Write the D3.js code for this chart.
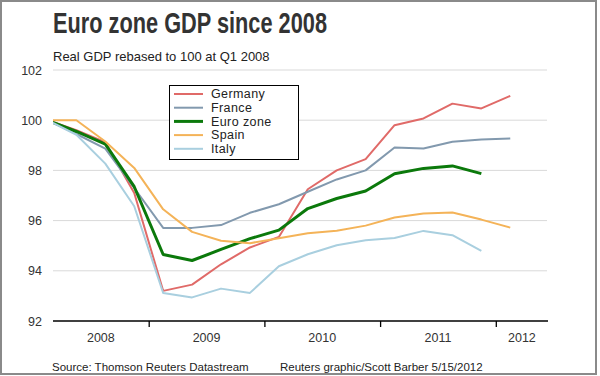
<!DOCTYPE html>
<html>
<head>
<meta charset="utf-8">
<script src="https://cdn.jsdelivr.net/npm/d3@7"></script>
<style>
  html, body { margin: 0; padding: 0; background: #fff; }
  svg { display: block; font-family: "Liberation Sans", Arial, sans-serif; }
</style>
</head>
<body>
<div id="chart"></div>
<script>
// quarters Q1 2008 .. Q1 2012
const quarters = ['2008Q1','2008Q2','2008Q3','2008Q4','2009Q1','2009Q2','2009Q3','2009Q4',
                  '2010Q1','2010Q2','2010Q3','2010Q4','2011Q1','2011Q2','2011Q3','2011Q4','2012Q1'];
const years = [2008, 2009, 2010, 2011, 2012];
const yTicks = [92, 94, 96, 98, 100, 102];

const germany  = [100, 99.6, 99.12, 97.1, 93.2, 93.45, 94.26, 94.93, 95.35, 97.25, 98.0, 98.45, 99.8, 100.07, 100.66, 100.47, 100.97];
const france   = [100, 99.45, 98.87, 97.3, 95.71, 95.71, 95.82, 96.31, 96.65, 97.15, 97.64, 98.0, 98.91, 98.87, 99.14, 99.23, 99.27];
const eurozone = [100, 99.55, 99.05, 97.35, 94.65, 94.41, 94.85, 95.28, 95.62, 96.48, 96.88, 97.18, 97.87, 98.08, 98.18, 97.87];
const spain    = [100, 100.0, 99.15, 98.1, 96.45, 95.55, 95.2, 95.1, 95.3, 95.5, 95.6, 95.8, 96.12, 96.28, 96.32, 96.04, 95.72];
const italy    = [100, 99.42, 98.27, 96.57, 93.12, 92.94, 93.29, 93.12, 94.18, 94.66, 95.02, 95.22, 95.31, 95.59, 95.42, 94.79];

const series = [
    { name: 'Germany',   values: germany,  color: '#e06a68', width: 2 },
    { name: 'France',    values: france,   color: '#8299ae', width: 2 },
    { name: 'Euro zone', values: eurozone, color: '#0b790b', width: 3 },
    { name: 'Spain',     values: spain,    color: '#f4b358', width: 2 },
    { name: 'Italy',     values: italy,    color: '#a9cfdf', width: 2 }
];

const W = 600, H = 376;
const plotLeft = 53, plotRight = 548;

const svg = d3.select('#chart').append('svg')
    .attr('width', W).attr('height', H);

// frame
svg.append('rect')
    .attr('x', 1).attr('y', 1).attr('width', 595).attr('height', 373)
    .attr('fill', '#fff').attr('stroke', '#8a8a8a').attr('stroke-width', 2);

svg.append('text')
    .attr('x', 53).attr('y', 33)
    .attr('font-size', 30).attr('font-weight', 'bold').attr('fill', '#333')
    .attr('textLength', 274).attr('lengthAdjust', 'spacingAndGlyphs')
    .text('Euro zone GDP since 2008');

svg.append('text')
    .attr('x', 53).attr('y', 61)
    .attr('font-size', 13).attr('fill', '#222')
    .text('Real GDP rebased to 100 at Q1 2008');

// fractional-year x scale, each year band ~115.7px
const x = d3.scaleLinear().domain([2008, 2013]).range([33, 611.5]);
const y = d3.scaleLinear().domain([92, 102]).range([321, 70]);

const qx = q => {
    const yr = +q.slice(0, 4), n = +q.slice(5);
    return x(yr + (n - 0.5) / 4);
};

// gridlines + y labels
const yAxis = svg.append('g')
    .attr('transform', `translate(${plotLeft},0)`)
    .call(d3.axisLeft(y).tickValues(yTicks).tickSize(0).tickPadding(11));
yAxis.select('.domain').remove();
yAxis.selectAll('text')
    .attr('font-size', 12.5).attr('fill', '#333')
    .attr('font-family', '"Liberation Sans", Arial, sans-serif');

svg.append('g').selectAll('line')
    .data(yTicks.filter(d => d > 92))
    .join('line')
    .attr('x1', plotLeft).attr('x2', plotRight - 1)
    .attr('y1', d => y(d)).attr('y2', d => y(d))
    .attr('stroke', '#d9d9d9').attr('stroke-width', 1);

// clip for lines
svg.append('defs').append('clipPath').attr('id', 'plot')
    .append('rect')
    .attr('x', plotLeft).attr('y', 60)
    .attr('width', plotRight - plotLeft).attr('height', 270);

const line = d3.line()
    .x((d, i) => qx(quarters[i]))
    .y(d => y(d));

svg.append('g').attr('clip-path', 'url(#plot)')
    .selectAll('path')
    .data(series)
    .join('path')
    .attr('fill', 'none')
    .attr('stroke', d => d.color)
    .attr('stroke-width', d => d.width)
    .attr('stroke-linejoin', 'round')
    .attr('d', d => line(d.values));

// x axis
const xAxis = svg.append('g')
    .attr('transform', `translate(0,${y(92)})`)
    .call(d3.axisBottom(x).tickValues(years.slice(1)).tickSize(6).tickFormat(''));
xAxis.select('.domain').remove();
xAxis.selectAll('line').attr('stroke', '#000').attr('stroke-width', 1.3);

svg.append('line')
    .attr('x1', plotLeft).attr('x2', plotRight)
    .attr('y1', y(92)).attr('y2', y(92))
    .attr('stroke', '#000').attr('stroke-width', 1.5);

svg.append('g').selectAll('text')
    .data(years)
    .join('text')
    .attr('x', d => (Math.max(x(d), plotLeft) + Math.min(x(d + 1), plotRight)) / 2)
    .attr('y', 342)
    .attr('text-anchor', 'middle')
    .attr('font-size', 12.5).attr('fill', '#333')
    .text(d => d);

// legend
const legend = svg.append('g').attr('transform', 'translate(169,85)');
legend.append('rect')
    .attr('x', 0.5).attr('y', 0.5).attr('width', 129).attr('height', 74)
    .attr('fill', '#fff').attr('stroke', '#000').attr('stroke-width', 1);

const item = legend.selectAll('g.item')
    .data(series)
    .join('g')
    .attr('class', 'item')
    .attr('transform', (d, i) => `translate(0,${9 + i * 13.7})`);

item.append('line')
    .attr('x1', 5).attr('x2', 34)
    .attr('stroke', d => d.color)
    .attr('stroke-width', d => d.width);

item.append('text')
    .attr('x', 42).attr('y', 0).attr('dy', '0.35em')
    .attr('font-size', 12.5).attr('fill', '#222')
    .attr('letter-spacing', 0.4)
    .text(d => d.name);

// footer
svg.append('text')
    .attr('x', 52).attr('y', 371)
    .attr('font-size', 11.5).attr('fill', '#222')
    .text('Source: Thomson Reuters Datastream');
svg.append('text')
    .attr('x', 280).attr('y', 371)
    .attr('font-size', 11.5).attr('fill', '#222')
    .text('Reuters graphic/Scott Barber 5/15/2012');
</script>
</body>
</html>
